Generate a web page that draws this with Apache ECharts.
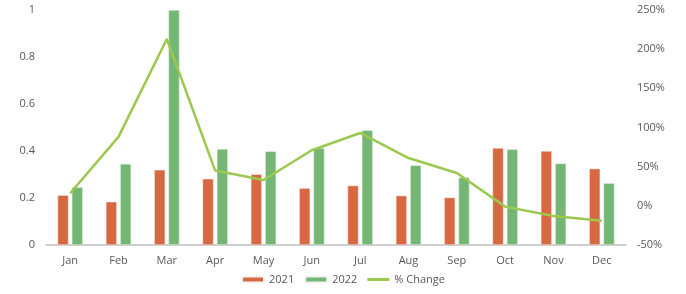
<!DOCTYPE html>
<html><head><meta charset="utf-8">
<script src="https://cdn.jsdelivr.net/npm/echarts@6/dist/echarts.min.js"></script>
<style>html,body{margin:0;padding:0;background:#fff}#c{width:686px;height:294px}</style>
</head><body><div id="c"></div>
<script>
const categories = ['Jan','Feb','Mar','Apr','May','Jun','Jul','Aug','Sep','Oct','Nov','Dec'];
const values2021 = [0.212,0.184,0.32,0.282,0.301,0.242,0.253,0.21,0.202,0.413,0.40,0.325];
const values2022 = [0.246,0.345,1.0,0.409,0.399,0.413,0.488,0.339,0.287,0.407,0.347,0.263];
const pctChange = [16,88,213,45,33,71,93,61,42,-1,-13,-19];
const leftTicks = [0,0.2,0.4,0.6,0.8,1];
const rightTicks = [-50,0,50,100,150,200,250];

const font = '"Open Sans", Lato, sans-serif';
const chart = echarts.init(document.getElementById('c'), null, {renderer:'canvas'});
chart.setOption({
  animation:false,
  textStyle:{fontFamily:font},
  grid:{left:46,right:60,top:10,bottom:49,containLabel:false},
  legend:{
    bottom:4, left:'center', itemWidth:22, itemHeight:6, itemGap:10,
    textStyle:{color:'#595959',fontSize:11,fontFamily:font},
    data:[{name:'2021'},{name:'2022'},{name:'% Change', icon:'path://M0,0 L22,0 L22,3 L0,3 Z'}]
  },
  xAxis:{
    type:'category', data:categories,
    axisLine:{lineStyle:{color:'#bfbfbf',width:1.5}},
    axisTick:{show:false},
    axisLabel:{color:'#595959',fontSize:11,margin:10,fontFamily:font}
  },
  yAxis:[
    {type:'value',min:0,max:1,interval:0.2,
     axisLine:{show:false},axisTick:{show:false},splitLine:{show:false},
     axisLabel:{color:'#595959',fontSize:11,margin:11,fontFamily:font,
       formatter:v=>String(Math.round(v*10)/10)}},
    {type:'value',min:-50,max:250,interval:50,position:'right',
     axisLine:{show:false},axisTick:{show:false},splitLine:{show:false},
     axisLabel:{color:'#595959',fontSize:11,margin:11,fontFamily:font,formatter:'{value}%'}}
  ],
  series:[
    {name:'2021',type:'bar',data:values2021,barWidth:11,barGap:'30%',
     itemStyle:{color:'#D86842',borderColor:'#f2f2f2',borderWidth:0.5}},
    {name:'2022',type:'bar',data:values2022,barWidth:11,
     itemStyle:{color:'#74B774',borderColor:'#f2f2f2',borderWidth:0.5}},
    {name:'% Change',type:'line',yAxisIndex:1,data:pctChange,symbol:'none',
     lineStyle:{color:'#9DC84F',width:2.5},itemStyle:{color:'#9DC84F'}}
  ]
});
</script></body></html>
